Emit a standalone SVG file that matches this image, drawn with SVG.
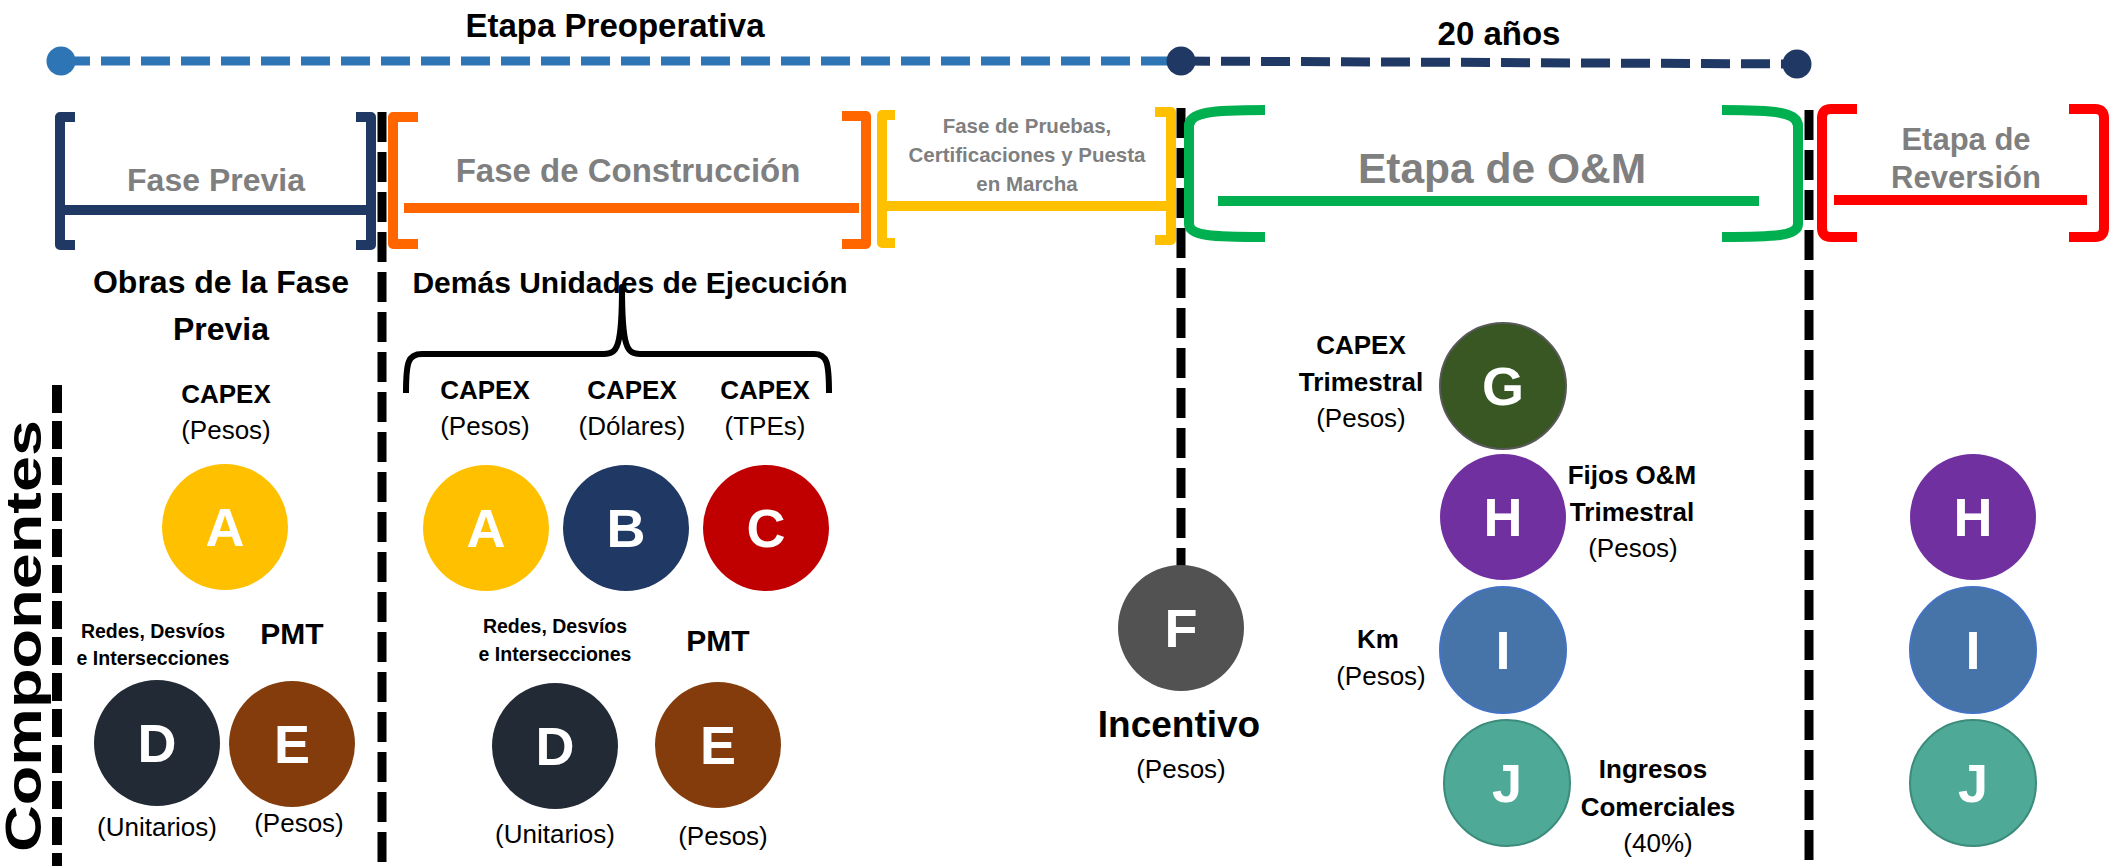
<svg xmlns="http://www.w3.org/2000/svg" width="2112" height="866" viewBox="0 0 2112 866">
<style>
text { font-family: 'Liberation Sans', Arial, sans-serif; text-anchor: middle; fill: #000; }
.b { font-weight: bold; }
.ph { font-weight: bold; fill: #7F7F7F; }
.let { font-weight: bold; fill: #fff; font-size: 54px; }
.lbl { font-weight: bold; font-size: 26px; }
.reg { font-size: 26px; }
.brk { fill: none; stroke-width: 10; stroke-linejoin: round; stroke-linecap: butt; }
.bar { stroke-width: 10; }
.vdash { stroke: #000; stroke-width: 9; stroke-dasharray: 30 10; fill: none; }
.tl { stroke-width: 9; stroke-dasharray: 29 11; fill: none; }
</style>

<g id="timeline">
  <line class="tl" x1="61" y1="61" x2="1181" y2="61" stroke="#2E75B6"/>
  <line class="tl" x1="1181" y1="61" x2="1797" y2="64" stroke="#203864"/>
  <circle cx="61" cy="61" r="14.5" fill="#2E75B6"/>
  <circle cx="1181" cy="61" r="14.5" fill="#203864"/>
  <circle cx="1797" cy="64" r="14.5" fill="#203864"/>
  <text class="b" x="615" y="37" font-size="33">Etapa Preoperativa</text>
  <text class="b" x="1499" y="45" font-size="33">20 años</text>
</g>

<g id="connectors">
  <line class="vdash" x1="382" y1="112" x2="382" y2="866"/>
  <line class="vdash" x1="1181" y1="108" x2="1181" y2="566"/>
  <line class="vdash" x1="1809" y1="110" x2="1809" y2="866"/>
  <line x1="57" y1="385" x2="57" y2="866" stroke="#000" stroke-width="10" stroke-dasharray="28 8"/>
  <path d="M406,393 C406,362 408,354 422,354 L604,354 C617,354 622,348 622,287 C622,348 627,354 640,354 L814,354 C827,354 829,362 829,393" fill="none" stroke="#000" stroke-width="6" stroke-linejoin="round"/>
</g>

<g id="fase-previa">
  <path class="brk" stroke="#203864" d="M75,117 L60,117 L60,245 L75,245"/>
  <path class="brk" stroke="#203864" d="M356,117 L371,117 L371,245 L356,245"/>
  <line class="bar" x1="65" y1="210" x2="366" y2="210" stroke="#203864"/>
  <text class="ph" x="216" y="191" font-size="32">Fase Previa</text>
</g>

<g id="fase-construccion">
  <path class="brk" stroke="#FF6600" d="M418,117 L393,117 L393,244 L418,244"/>
  <path class="brk" stroke="#FF6600" d="M842,116 L866,116 L866,244 L842,244"/>
  <line class="bar" x1="404" y1="208" x2="859" y2="208" stroke="#FF6600"/>
  <text class="ph" x="628" y="182" font-size="33">Fase de Construcción</text>
</g>

<g id="fase-pruebas">
  <path class="brk" stroke="#FFC000" d="M895,115 L882,115 L882,243 L895,243"/>
  <path class="brk" stroke="#FFC000" d="M1155,112 L1171,112 L1171,240 L1155,240"/>
  <line class="bar" x1="887" y1="206" x2="1166" y2="206" stroke="#FFC000"/>
  <text class="ph" x="1027" y="133" font-size="20.5">Fase de Pruebas,</text>
  <text class="ph" x="1027" y="162" font-size="20.5">Certificaciones y Puesta</text>
  <text class="ph" x="1027" y="191" font-size="20.5">en Marcha</text>
</g>

<g id="etapa-om">
  <path class="brk" stroke="#00B050" d="M1265,110 C1212,110 1189,112 1189,126 L1189,224 C1189,236 1212,237 1265,237"/>
  <path class="brk" stroke="#00B050" d="M1722,110 C1775,110 1798,112 1798,126 L1798,224 C1798,236 1775,237 1722,237"/>
  <line class="bar" x1="1218" y1="201" x2="1759" y2="201" stroke="#00B050"/>
  <text class="ph" x="1502" y="183" font-size="42.5">Etapa de O&amp;M</text>
</g>

<g id="etapa-reversion">
  <path class="brk" stroke="#FF0000" d="M1857,109 L1831,109 Q1822,109 1822,118 L1822,228 Q1822,237 1831,237 L1857,237"/>
  <path class="brk" stroke="#FF0000" d="M2069,109 L2095,109 Q2104,109 2104,118 L2104,228 Q2104,237 2095,237 L2069,237"/>
  <line class="bar" x1="1834" y1="200" x2="2087" y2="200" stroke="#FF0000"/>
  <text class="ph" x="1966" y="150" font-size="31">Etapa de</text>
  <text class="ph" x="1966" y="188" font-size="31">Reversión</text>
</g>

<g id="componentes">
  <text class="b" transform="translate(41,852) rotate(-90)" x="0" y="0" font-size="50" style="text-anchor:start" textLength="432" lengthAdjust="spacingAndGlyphs">Componentes</text>
</g>

<g id="obras-fase-previa">
  <text class="b" x="221" y="293" font-size="32">Obras de la Fase</text>
  <text class="b" x="221" y="340" font-size="32">Previa</text>
  <text class="lbl" x="226" y="403">CAPEX</text>
  <text class="reg" x="226" y="439">(Pesos)</text>
  <circle cx="225" cy="527" r="63" fill="#FFC000"/>
  <text class="let" x="225" y="546">A</text>
  <text class="b" x="153" y="638" font-size="19.5">Redes, Desvíos</text>
  <text class="b" x="153" y="665" font-size="19.5">e Intersecciones</text>
  <text class="b" x="292" y="644" font-size="30">PMT</text>
  <circle cx="157" cy="743" r="63" fill="#222A35"/>
  <text class="let" x="157" y="762">D</text>
  <circle cx="292" cy="744" r="63" fill="#843C0C"/>
  <text class="let" x="292" y="763">E</text>
  <text class="reg" x="157" y="836" font-size="27">(Unitarios)</text>
  <text class="reg" x="299" y="832" font-size="27">(Pesos)</text>
</g>

<g id="demas-unidades">
  <text class="b" x="630" y="293" font-size="30">Demás Unidades de Ejecución</text>
  <text class="lbl" x="485" y="399">CAPEX</text>
  <text class="reg" x="485" y="435">(Pesos)</text>
  <text class="lbl" x="632" y="399">CAPEX</text>
  <text class="reg" x="632" y="435">(Dólares)</text>
  <text class="lbl" x="765" y="399">CAPEX</text>
  <text class="reg" x="765" y="435">(TPEs)</text>
  <circle cx="486" cy="528" r="63" fill="#FFC000"/>
  <text class="let" x="486" y="547">A</text>
  <circle cx="626" cy="528" r="63" fill="#203864"/>
  <text class="let" x="626" y="547">B</text>
  <circle cx="766" cy="528" r="63" fill="#C00000"/>
  <text class="let" x="766" y="547">C</text>
  <text class="b" x="555" y="633" font-size="19.5">Redes, Desvíos</text>
  <text class="b" x="555" y="661" font-size="19.5">e Intersecciones</text>
  <text class="b" x="718" y="651" font-size="30">PMT</text>
  <circle cx="555" cy="746" r="63" fill="#222A35"/>
  <text class="let" x="555" y="765">D</text>
  <circle cx="718" cy="745" r="63" fill="#843C0C"/>
  <text class="let" x="718" y="764">E</text>
  <text class="reg" x="555" y="843" font-size="27">(Unitarios)</text>
  <text class="reg" x="723" y="845" font-size="27">(Pesos)</text>
</g>

<g id="incentivo">
  <circle cx="1181" cy="628" r="63" fill="#525252"/>
  <text class="let" x="1181" y="647">F</text>
  <text class="b" x="1179" y="737" font-size="37">Incentivo</text>
  <text class="reg" x="1181" y="778" font-size="29">(Pesos)</text>
</g>

<g id="om-componentes">
  <text class="lbl" x="1361" y="354">CAPEX</text>
  <text class="lbl" x="1361" y="391">Trimestral</text>
  <text class="reg" x="1361" y="427">(Pesos)</text>
  <circle cx="1503" cy="386" r="63" fill="#385723" stroke="#595959" stroke-width="2"/>
  <text class="let" x="1503" y="405">G</text>
  <circle cx="1503" cy="517" r="63" fill="#7030A0"/>
  <text class="let" x="1503" y="536">H</text>
  <text class="lbl" x="1632" y="484">Fijos O&amp;M</text>
  <text class="lbl" x="1632" y="521">Trimestral</text>
  <text class="reg" x="1633" y="557">(Pesos)</text>
  <circle cx="1503" cy="650" r="63" fill="#4674A8" stroke="#4472C4" stroke-width="2"/>
  <text class="let" x="1503" y="669">I</text>
  <text class="lbl" x="1378" y="648">Km</text>
  <text class="reg" x="1381" y="685">(Pesos)</text>
  <circle cx="1507" cy="783" r="63" fill="#4EA997" stroke="#3C8C7C" stroke-width="2"/>
  <text class="let" x="1507" y="802">J</text>
  <text class="lbl" x="1653" y="778">Ingresos</text>
  <text class="lbl" x="1658" y="816">Comerciales</text>
  <text class="reg" x="1658" y="852">(40%)</text>
</g>

<g id="reversion-componentes">
  <circle cx="1973" cy="517" r="63" fill="#7030A0"/>
  <text class="let" x="1973" y="536">H</text>
  <circle cx="1973" cy="650" r="63" fill="#4674A8" stroke="#4472C4" stroke-width="2"/>
  <text class="let" x="1973" y="669">I</text>
  <circle cx="1973" cy="783" r="63" fill="#4EA997" stroke="#3C8C7C" stroke-width="2"/>
  <text class="let" x="1973" y="802">J</text>
</g>
</svg>
